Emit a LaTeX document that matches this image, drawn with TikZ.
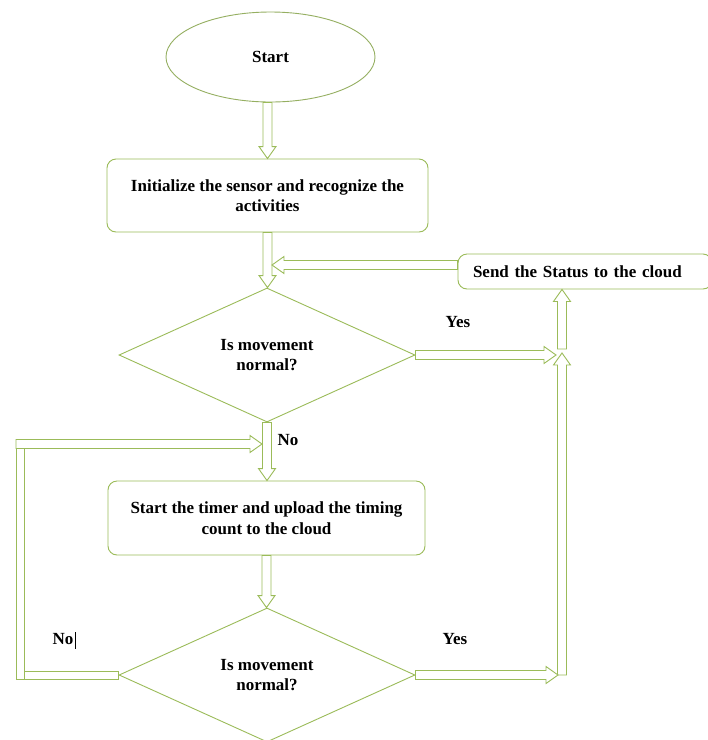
\documentclass[tikz,border=0pt]{standalone}
\usepackage{fontspec}
\setmainfont{Liberation Serif}
\usetikzlibrary{shapes.geometric,calc}
\definecolor{flowgreen}{RGB}{155,187,89}
\tikzset{
  every node/.style={font=\fontsize{17}{20.5}\selectfont\bfseries, text=black},
  flowline/.style={draw=flowgreen, line width=0.9pt, fill=white, line join=miter},
  terminal/.style={ellipse, draw=flowgreen!80!gray, line width=0.9pt, minimum width=209pt, minimum height=90pt, inner sep=0pt},
  process/.style={rectangle, rounded corners=9pt, draw=flowgreen, line width=0.9pt, align=center, inner sep=0pt},
  decision/.style={diamond, aspect=2, draw=flowgreen, line width=0.9pt, inner sep=0pt, align=center, minimum width=296pt, minimum height=134pt},
  tag/.style={inner sep=0pt}
}
% hollow block arrow from #1 to #2 (tip at #2)
\newcommand\flowarrow[2]{%
  \path (#1) coordinate (fa-a) (#2) coordinate (fa-b);
  \path ($(fa-b)!12pt!(fa-a)$) coordinate (fa-c);
  \draw[flowline] ($(fa-a)!4.5pt!90:(fa-b)$) -- ($(fa-c)!4.5pt!-90:(fa-a)$) -- ($(fa-c)!8.5pt!-90:(fa-a)$) -- (fa-b) -- ($(fa-c)!8.5pt!90:(fa-a)$) -- ($(fa-c)!4.5pt!90:(fa-a)$) -- ($(fa-a)!4.5pt!-90:(fa-b)$) -- cycle;}
% hollow bar without a head
\newcommand\flowbar[2]{%
  \path (#1) coordinate (fb-a) (#2) coordinate (fb-b);
  \draw[flowline] ($(fb-a)!4pt!90:(fb-b)$) -- ($(fb-b)!4pt!-90:(fb-a)$) -- ($(fb-b)!4pt!90:(fb-a)$) -- ($(fb-a)!4pt!-90:(fb-b)$) -- cycle;}
\begin{document}
\begin{tikzpicture}[x=1pt,y=-1pt]
\useasboundingbox[fill=white] (0,0) rectangle (708,740);

% nodes
\node[terminal] (start) at (270.5,57) {Start};
\node[process, minimum width=321pt, minimum height=73pt] (init) at (267.5,195.5) {Initialize the sensor and recognize the\\activities};
\node[decision] (d1) at (267,355) {Is movement\\normal?};
\node[process, minimum width=254pt, minimum height=35pt, text width=224pt, align=left] (send) at (585,271.5) {Send the Status to the cloud};
\node[process, minimum width=317pt, minimum height=74pt] (timer) at (266.5,518) {Start the timer and upload the timing\\count to the cloud};
\node[decision] (d2) at (267,675) {Is movement\\normal?};

% junction points
\coordinate (m1) at (272,265);
\coordinate (j1) at (556,355);
\coordinate (u1) at (562,349);
\coordinate (u2) at (562,675);
\coordinate (u2t) at (562,353);
\coordinate (j2) at (558,675);
\coordinate (lv1) at (20,679);
\coordinate (lv2) at (20,440);
\coordinate (lb) at (24,675);
\coordinate (lt0) at (16,444);
\coordinate (ltip) at (262,444);

% connectors
\flowarrow{start.south -| init.north}{init.north}
\flowarrow{init.south}{init.south |- d1.north}
\flowarrow{send.west |- m1}{m1}
\flowarrow{d1.east}{j1}
\flowarrow{u1}{u1 |- send.south}
\flowarrow{u2}{u2t}
\flowarrow{d2.east}{j2}
\flowarrow{d1.south}{d1.south |- timer.north}
\flowarrow{timer.south}{timer.south |- d2.north}
\flowbar{lv1}{lv2}
\flowbar{d2.west}{lb}
\flowarrow{lt0}{ltip}

% branch labels
\node[tag] (yes1) at (458,322) {Yes};
\node[tag] (yes2) at (455,639) {Yes};
\node[tag] (no1) at (288,440) {No};
\node[tag] (no2) at (64,640) {No\hspace{1.5pt}\rule[-4pt]{0.6pt}{17pt}};
\end{tikzpicture}
\end{document}
